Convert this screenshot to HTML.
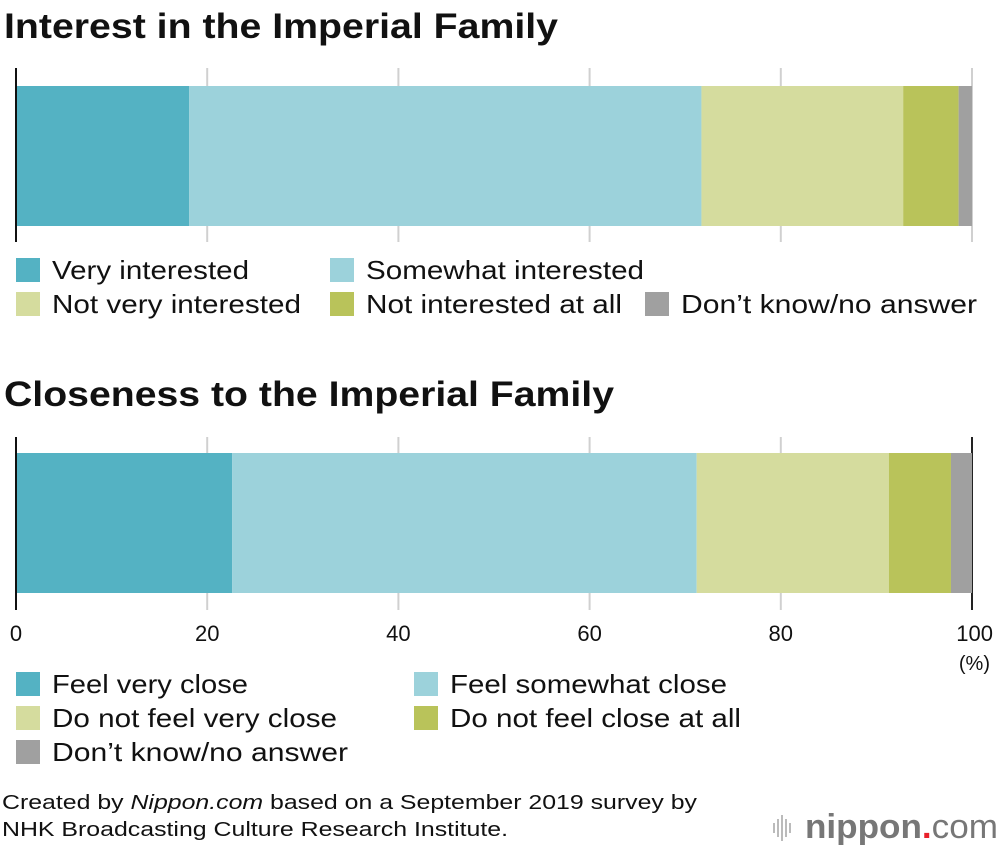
<!DOCTYPE html>
<html><head><meta charset="utf-8"><style>
body{margin:0;background:#fff;font-family:"Liberation Sans",Arial,sans-serif;}
svg text{font-family:"Liberation Sans",Arial,sans-serif;}
</style></head><body>
<svg id="c" width="1000" height="850" xmlns="http://www.w3.org/2000/svg">
<text x="4" y="38" font-size="35" font-weight="bold" fill="#111" textLength="554" lengthAdjust="spacingAndGlyphs">Interest in the Imperial Family</text>
<text x="4" y="406" font-size="35" font-weight="bold" fill="#111" textLength="610" lengthAdjust="spacingAndGlyphs">Closeness to the Imperial Family</text>
<text x="2" y="809" font-size="20" fill="#111" textLength="695" lengthAdjust="spacingAndGlyphs">Created by <tspan font-style="italic">Nippon.com</tspan> based on a September 2019 survey by</text>
<text x="2" y="836" font-size="20" fill="#111" textLength="506" lengthAdjust="spacingAndGlyphs">NHK Broadcasting Culture Research Institute.</text>
<g>
<rect x="773" y="823" width="2" height="10" fill="#bbb"/><rect x="777" y="819" width="2" height="18" fill="#bbb"/><rect x="781" y="815" width="2" height="26" fill="#bbb"/><rect x="785" y="819" width="2" height="18" fill="#bbb"/><rect x="789" y="823" width="2" height="10" fill="#bbb"/>
<text x="805" y="838" font-size="34" fill="#777" font-weight="bold" textLength="193" lengthAdjust="spacingAndGlyphs">nippon<tspan fill="#e8202a">.</tspan><tspan font-weight="normal">com</tspan></text>
</g>
<text x="990" y="670" font-size="20" fill="#111" text-anchor="end">(%)</text>
</svg>
<script>
const ticks=[0,20,40,60,80,100];
const interestLabels=["Very interested","Somewhat interested","Not very interested","Not interested at all","Don’t know/no answer"];
const interestValues=[18.1,53.6,21.1,5.8,1.4];
const closeLabels=["Feel very close","Feel somewhat close","Do not feel very close","Do not feel close at all","Don’t know/no answer"];
const closeValues=[22.6,48.6,20.1,6.5,2.2];
const colors=["#54b2c3","#9cd2db","#d5dc9e","#b9c35a","#a0a0a0"];
const interestWidths=[197,278,249,256,296];
const closeWidths=[196,277,285,291,296];
const svg=document.getElementById('c');
const NS="http://www.w3.org/2000/svg";
const x=v=>16+v*9.56;
function el(t,a){const e=document.createElementNS(NS,t);for(const k in a)e.setAttribute(k,a[k]);svg.appendChild(e);return e;}
function chart(vals,labels,y0,key,gTop,gBot,showTicks){
  ticks.forEach(t=>{if(t===0)return;
    const l=el('line',{x1:x(t),x2:x(t),y1:gTop,y2:gBot,stroke:(showTicks&&t===100)?'#222':'#d0d0d0','stroke-width':2});
    
    
  });
  let acc=0;
  vals.forEach((v,i)=>{
    const r=el('rect',{x:x(acc),y:y0,width:x(acc+v)-x(acc),height:140,fill:colors[i]});
    
    
    acc+=v;
  });
  const a=el('line',{x1:16,x2:16,y1:gTop,y2:gBot,stroke:'#111','stroke-width':2});
  
  
  if(showTicks){ticks.forEach(t=>{
    const tx=el('text',{x:t===100?x(t)+21:x(t),y:641,'font-size':22,fill:'#111','text-anchor':t===100?'end':'middle'});
    tx.textContent=t;
    
    
  });}
}
function legend(labels,widths,pos,key){
  labels.forEach((lb,i)=>{
    const [lx,ly]=pos[i];
    const s=el('rect',{x:lx,y:ly,width:24,height:24,fill:colors[i]});
    
    
    const t=el('text',{x:lx+36,y:ly+21,'font-size':26,fill:'#111',textLength:widths[i],lengthAdjust:'spacingAndGlyphs'});
    t.textContent=lb;
    
    
  });
}
chart(interestValues,interestLabels,86,'interest',68,242,false);
chart(closeValues,closeLabels,453,'closeness',437,610,true);
legend(interestLabels,interestWidths,[[16,258],[330,258],[16,292],[330,292],[645,292]],'interest');
legend(closeLabels,closeWidths,[[16,672],[414,672],[16,706],[414,706],[16,740]],'closeness');
</script>
</body></html>
